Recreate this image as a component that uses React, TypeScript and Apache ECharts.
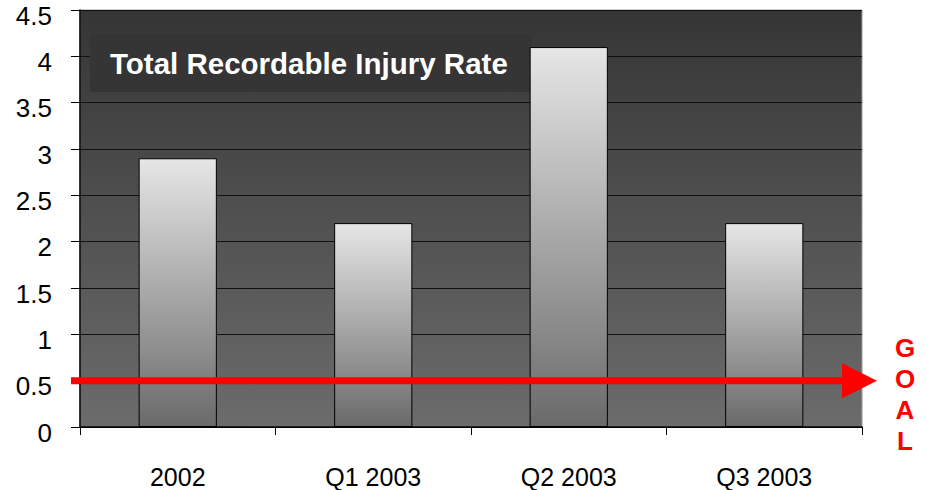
import React, { useEffect, useRef } from "react";
import * as echarts from "echarts";

const categories = ["2002", "Q1 2003", "Q2 2003", "Q3 2003"];
const injuryRates = [2.9, 2.2, 4.1, 2.2];
const goalValue = 0.5;
const yTicks = [0, 0.5, 1, 1.5, 2, 2.5, 3, 3.5, 4, 4.5];
const titleText = "Total Recordable Injury Rate";
const goalText = ["G", "O", "A", "L"];

export default function App() {
  const ref = useRef<HTMLDivElement>(null);
  useEffect(() => {
    const el = ref.current!;
    const chart = echarts.init(el, null, { renderer: "svg" });
    const font = "Arial, 'Liberation Sans', Helvetica, sans-serif";
    chart.setOption({
      animation: false,
      backgroundColor: "#ffffff",
      grid: {
        left: 80,
        right: 65,
        top: 10,
        bottom: 63,
        show: true,
        borderColor: "#9a9a9a",
        borderWidth: 1,
        backgroundColor: new echarts.graphic.LinearGradient(0, 0, 0, 1, [
          { offset: 0, color: "#353535" },
          { offset: 1, color: "#6c6c6c" },
        ]),
      },
      xAxis: {
        type: "category",
        data: categories,
        axisLine: { show: true, lineStyle: { color: "#000", width: 1.5 } },
        axisTick: { show: true, length: 8, lineStyle: { color: "#000", width: 1 } },
        axisLabel: { color: "#000", fontSize: 25, fontFamily: font, margin: 37 },
        splitLine: { show: false },
      },
      yAxis: {
        type: "value",
        min: yTicks[0],
        max: yTicks[yTicks.length - 1],
        interval: 0.5,
        axisLine: { show: true, lineStyle: { color: "#000", width: 1.5 } },
        axisTick: { show: true, inside: false, length: 9, lineStyle: { color: "#000", width: 1 } },
        axisLabel: {
          color: "#000",
          fontSize: 26,
          fontFamily: font,
          margin: 28,
          formatter: "{a|{value}}",
          rich: {
            a: {
              color: "#000",
              fontSize: 26,
              fontFamily: font,
              padding: [11, 0, 0, 0],
            },
          },
        },
        splitLine: { show: true, lineStyle: { color: "#111", width: 1.2 } },
      },
      series: [
        {
          type: "bar",
          data: injuryRates,
          barWidth: "40%",
          z: 5,
          itemStyle: {
            color: new echarts.graphic.LinearGradient(0, 0, 0, 1, [
              { offset: 0, color: "#e6e6e6" },
              { offset: 1, color: "#6a6a6a" },
            ]),
            borderColor: "#000",
            borderWidth: 1,
          },
        },
      ],
    });

    const y = chart.convertToPixel({ yAxisIndex: 0 }, goalValue) as number;
    const x0 = chart.convertToPixel({ xAxisIndex: 0 }, categories[0]) as number;
    const x3 = chart.convertToPixel({ xAxisIndex: 0 }, categories[3]) as number;
    const step = (x3 - x0) / 3;
    const gridLeft = x0 - step / 2;
    const gridRight = x3 + step / 2;
    const lineStart = gridLeft - 9;
    const tip = gridRight + 15;
    const head = 35;

    chart.setOption({
      graphic: [
        {
          type: "rect",
          z: 3,
          shape: { x: 90, y: 34, width: 442, height: 58 },
          style: { fill: "#353535" },
        },
        {
          type: "text",
          z: 4,
          x: 110,
          y: 63,
          style: {
            text: titleText,
            fill: "#ffffff",
            font: `bold 29.5px ${font}`,
            textVerticalAlign: "middle",
            verticalAlign: "middle",
          },
        },
        {
          type: "line",
          z: 10,
          shape: { x1: lineStart, y1: y, x2: tip - head + 2, y2: y },
          style: { stroke: "#ff0000", lineWidth: 7 },
        },
        {
          type: "polygon",
          z: 10,
          shape: {
            points: [
              [tip - head, y - head / 2],
              [tip, y],
              [tip - head, y + head / 2],
            ],
          },
          style: { fill: "#ff0000" },
        },
        {
          type: "text",
          z: 10,
          x: 905,
          y: y + 14,
          style: {
            text: goalText.join("\n"),
            fill: "#ff0000",
            font: `bold 26px ${font}`,
            lineHeight: 31,
            align: "center",
            textAlign: "center",
            verticalAlign: "middle",
            textVerticalAlign: "middle",
          },
        },
      ],
    });

    return () => chart.dispose();
  }, []);
  return <div ref={ref} style={{ width: 927, height: 490, position: "absolute", left: 0, top: 0 }} />;
}
